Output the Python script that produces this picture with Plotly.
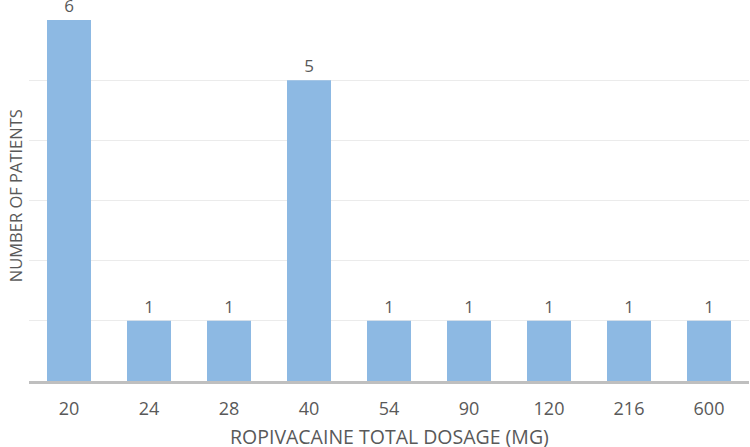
import plotly.graph_objects as go

categories = ["20", "24", "28", "40", "54", "90", "120", "216", "600"]
patients = [6, 1, 1, 5, 1, 1, 1, 1, 1]

font_family = "Open Sans, Liberation Sans, sans-serif"
txt_color = "#595959"

fig = go.Figure(go.Bar(
    x=categories, y=patients,
    marker=dict(color="#8DB9E3", line=dict(width=0)),
    text=[str(v) for v in patients], textposition="outside",
    textfont=dict(family=font_family, size=17, color=txt_color),
    cliponaxis=False,
))

fig.update_layout(
    width=750, height=447,
    margin=dict(l=29, r=1, t=20, b=66),
    paper_bgcolor="white", plot_bgcolor="white",
    bargap=0.45,
    showlegend=False,
    xaxis=dict(
        type="category",
        showline=True, linecolor="#BFBFBF", linewidth=3,
        ticks="", tickfont=dict(family=font_family, size=18, color=txt_color),
        ticklabelstandoff=9,
        showgrid=False,
    ),
    yaxis=dict(
        range=[0, 6], showticklabels=False, ticks="",
        showgrid=True, gridcolor="#EBEBEB", gridwidth=1,
        zeroline=False, dtick=1,
    ),
    annotations=[
        dict(
            text="NUMBER OF PATIENTS", xref="paper", yref="paper",
            x=-0.0194, y=0.512, xanchor="center", yanchor="middle", textangle=-90,
            showarrow=False, font=dict(family=font_family, size=16.5, color=txt_color),
        ),
        dict(
            text="ROPIVACAINE TOTAL DOSAGE (MG)", xref="paper", yref="paper",
            x=0.5, y=-0.153, xanchor="center", yanchor="middle",
            showarrow=False, font=dict(family=font_family, size=19.5, color=txt_color),
        ),
    ],
)

fig.write_html("out.html")
